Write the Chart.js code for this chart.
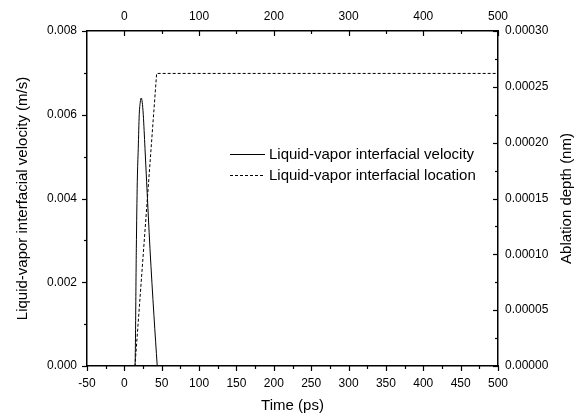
<!DOCTYPE html>
<html>
<head>
<meta charset="utf-8">
<script src="https://cdn.jsdelivr.net/npm/chart.js@4/dist/chart.umd.min.js"></script>
<style>
    body { margin: 0; background: #fff; }
    canvas { display: block; }
</style>
</head>
<body>
<canvas id="myChart" width="582" height="417"></canvas>
<script>
// velocity curve (bottom x, left y)
const velTime = [0, 14.2, 16.0, 17.3, 18.6, 19.9, 21.3, 22.6, 23.9, 25.3, 27.6, 29.8, 34.3, 39.6, 44.0];
const velValue = [0, 0, 0.0028, 0.0044, 0.0052, 0.0060, 0.0063, 0.0064, 0.0063, 0.0060, 0.0052, 0.0044, 0.0028, 0.0012, 0];

// interface location (top x, right y)
const locTime = [0, 14.2, 43.2, 500];
const locDepth = [0, 0, 0.000262, 0.000262];

const seriesLabels = ['Liquid-vapor interfacial velocity', 'Liquid-vapor interfacial location'];

// tick values
const xMajor = [-50, 0, 50, 100, 150, 200, 250, 300, 350, 400, 450, 500];
const xMinor = [-25, 25, 75, 125, 175, 225, 275, 325, 375, 425, 475];
const x2Major = [0, 100, 200, 300, 400, 500];
const x2Minor = [50, 150, 250, 350, 450];
const yMajor = [0, 0.002, 0.004, 0.006, 0.008];
const yMinor = [0.001, 0.003, 0.005, 0.007];
const y2Major = [0, 0.00005, 0.0001, 0.00015, 0.0002, 0.00025, 0.0003];
const y2Minor = [0.000025, 0.000075, 0.000125, 0.000175, 0.000225, 0.000275];

const fontFamily = '"Liberation Sans", Arial, sans-serif';

function toPoints(xs, ys) {
    return xs.map((x, i) => ({ x: x, y: ys[i] }));
}

function setTicks(values) {
    return function (scale) {
        scale.ticks = values.map(v => ({ value: v }));
    };
}

// draws major/minor tick marks, legend and the right-hand title
const decorPlugin = {
    id: 'decor',
    afterDraw(chart) {
        const c = chart.ctx;
        const area = chart.chartArea;
        const s = chart.scales;
        const majorLen = 5, minorLen = 3;

        c.save();
        c.strokeStyle = '#000';
        c.lineWidth = 1.2;

        function hTicks(scale, list, y, dir, len) {
            list.forEach(v => {
                const px = Math.round(scale.getPixelForValue(v)) + 0.5;
                c.beginPath();
                c.moveTo(px, y);
                c.lineTo(px, y + dir * len);
                c.stroke();
            });
        }
        function vTicks(scale, list, x, dir, len) {
            list.forEach(v => {
                const py = Math.round(scale.getPixelForValue(v)) + 0.5;
                c.beginPath();
                c.moveTo(x, py);
                c.lineTo(x + dir * len, py);
                c.stroke();
            });
        }

        hTicks(s.x, xMajor, area.bottom, 1, majorLen);
        hTicks(s.x, xMinor, area.bottom, 1, minorLen);
        hTicks(s.x2, x2Major, area.top, 1, majorLen);
        hTicks(s.x2, x2Minor, area.top, 1, minorLen);
        vTicks(s.y, yMajor, area.left, -1, majorLen);
        vTicks(s.y, yMinor, area.left, -1, minorLen);
        vTicks(s.y2, y2Major, area.right, -1, majorLen);
        vTicks(s.y2, y2Minor, area.right, -1, minorLen);

        // legend
        const lg = chart.options.plugins.decor;
        c.font = '15px ' + fontFamily;
        c.fillStyle = '#000';
        c.textBaseline = 'middle';
        c.textAlign = 'left';
        chart.data.datasets.forEach((ds, i) => {
            const y = lg.y + i * lg.rowGap + 0.5;
            c.lineWidth = 1;
            c.setLineDash(ds.borderDash || []);
            c.beginPath();
            c.moveTo(lg.x, y);
            c.lineTo(lg.x + lg.lineLen, y);
            c.stroke();
            c.setLineDash([]);
            c.fillText(ds.label, lg.x + lg.lineLen + 4, y);
        });

        // right axis title, reading bottom to top
        c.translate(lg.rightTitleX, (area.top + area.bottom) / 2);
        c.rotate(-Math.PI / 2);
        c.textAlign = 'center';
        c.fillText('Ablation depth (nm)', 0, 0);
        c.restore();
    }
};

const tickFont = { family: fontFamily, size: 12 };
const titleFont = { family: fontFamily, size: 15 };
const border = { display: true, color: '#000', width: 1.5 };

const cfg = {
    type: 'line',
    data: {
        datasets: [{
            label: seriesLabels[0],
            data: toPoints(velTime, velValue),
            xAxisID: 'x',
            yAxisID: 'y',
            borderColor: '#000',
            borderWidth: 1,
            pointRadius: 0,
            cubicInterpolationMode: 'monotone',
            fill: false
        }, {
            label: seriesLabels[1],
            data: toPoints(locTime, locDepth),
            xAxisID: 'x2',
            yAxisID: 'y2',
            borderColor: '#000',
            borderWidth: 1,
            borderDash: [3, 2],
            pointRadius: 0,
            tension: 0,
            fill: false
        }]
    },
    options: {
        responsive: false,
        animation: false,
        devicePixelRatio: 1,
        layout: { padding: 0 },
        plugins: {
            legend: { display: false },
            tooltip: { enabled: false },
            decor: { x: 230, y: 154, rowGap: 21, lineLen: 35, rightTitleX: 567 }
        },
        scales: {
            x: {
                type: 'linear',
                position: 'bottom',
                min: -50,
                max: 500,
                afterBuildTicks: setTicks(xMajor),
                afterFit: (scale) => { scale.height = 51; },
                grid: { display: false, drawTicks: false },
                border: border,
                ticks: { color: '#000', font: tickFont, padding: 10, maxRotation: 0, autoSkip: false },
                title: { display: true, text: 'Time (ps)', color: '#000', font: titleFont, padding: { top: 0, bottom: 2 } }
            },
            x2: {
                type: 'linear',
                position: 'top',
                min: -50,
                max: 500,
                afterBuildTicks: setTicks(x2Major),
                afterFit: (scale) => { scale.height = 31; },
                grid: { display: false, drawTicks: false },
                border: border,
                ticks: { color: '#000', font: tickFont, padding: 7, maxRotation: 0, autoSkip: false }
            },
            y: {
                type: 'linear',
                position: 'left',
                min: 0,
                max: 0.008,
                afterBuildTicks: setTicks(yMajor),
                afterFit: (scale) => { scale.width = 87; },
                grid: { display: false, drawTicks: false },
                border: border,
                ticks: {
                    color: '#000', font: tickFont, padding: 10, autoSkip: false,
                    callback: (value) => value.toFixed(3)
                },
                title: { display: true, text: 'Liquid-vapor interfacial velocity (m/s)', color: '#000', font: titleFont, padding: { top: 14, bottom: 0 } }
            },
            y2: {
                type: 'linear',
                position: 'right',
                min: 0,
                max: 0.0003,
                afterBuildTicks: setTicks(y2Major),
                afterFit: (scale) => { scale.width = 84; },
                grid: { display: false, drawTicks: false },
                border: border,
                ticks: {
                    color: '#000', font: tickFont, padding: 7, autoSkip: false,
                    callback: (value) => value.toFixed(5)
                }
            }
        }
    },
    plugins: [decorPlugin]
};

const myChart = new Chart(document.getElementById('myChart'), cfg);
</script>
</body>
</html>
